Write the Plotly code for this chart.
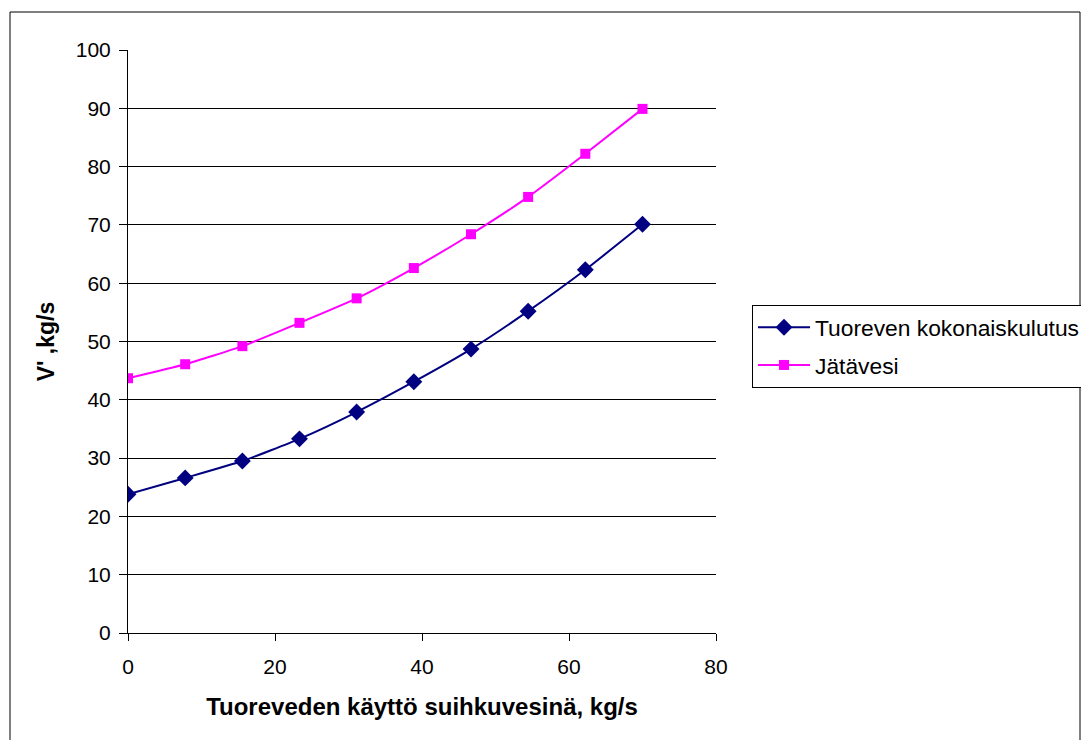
import plotly.graph_objects as go

x_vals = [0, 7.78, 15.56, 23.33, 31.11, 38.89, 46.67, 54.44, 62.22, 70.0]
kokonais = [23.8, 26.6, 29.5, 33.3, 37.9, 43.1, 48.7, 55.2, 62.3, 70.1]
jatevesi = [43.7, 46.1, 49.2, 53.2, 57.4, 62.6, 68.4, 74.8, 82.2, 89.9]
x_ticks = [0, 20, 40, 60, 80]
y_ticks = [0, 10, 20, 30, 40, 50, 60, 70, 80, 90, 100]

W, H = 1081, 740
L, R, T, B = 128, 716, 50, 633
pw, ph = R - L, B - T

def px(x):
    return (x - L) / pw

def py(y):
    return (B - y) / ph

fig = go.Figure()
fig.add_trace(go.Scatter(
    x=x_vals, y=kokonais, name="Tuoreven kokonaiskulutus", legendgroup="a",
    mode="lines+markers", line=dict(color="#000080", width=2, shape="spline", smoothing=0.5),
    marker=dict(symbol="diamond", size=13, color="#000080")))
fig.add_trace(go.Scatter(
    x=x_vals, y=jatevesi, name="Jätävesi", legendgroup="b",
    mode="lines+markers", line=dict(color="#FF00FF", width=2, shape="spline", smoothing=0.5),
    marker=dict(symbol="square", size=10, color="#FF00FF")))

font = "Liberation Sans, Arial, sans-serif"
fig.update_layout(
    width=W, height=H,
    margin=dict(l=L, r=W - R, t=T, b=H - B, autoexpand=False),
    paper_bgcolor="white", plot_bgcolor="white",
    font=dict(family=font, size=21, color="black"),
    showlegend=True,
    legend=dict(x=px(752), y=py(305), xanchor="left", yanchor="top",
                bgcolor="white", bordercolor="black", borderwidth=1,
                font=dict(size=22.8, family=font), tracegroupgap=5, itemwidth=52,
                traceorder="grouped"),
    xaxis=dict(range=[0, 80], tickvals=x_ticks, showgrid=False, zeroline=False,
               showline=True, linecolor="black", linewidth=1,
               ticks="outside", ticklen=7, tickcolor="black",
               tickfont=dict(size=21), ticklabelstandoff=8,
               title=dict(text="<b>Tuoreveden käyttö suihkuvesinä, kg/s</b>",
                          font=dict(size=24), standoff=20)),
    yaxis=dict(range=[0, 100], tickvals=y_ticks, showgrid=True, gridcolor="black", gridwidth=1,
               zeroline=False, showline=True, linecolor="black", linewidth=1,
               ticks="outside", ticklen=8, tickcolor="black",
               tickfont=dict(size=21), ticklabelstandoff=4,
               title=dict(text="<b>V' ,kg/s</b>", font=dict(size=23), standoff=14)),
)

fig.add_shape(type="rect", xref="paper", yref="paper",
              x0=px(10), x1=px(1080), y0=py(745), y1=py(12),
              line=dict(color="black", width=1), fillcolor="rgba(0,0,0,0)", layer="below")

fig.write_html("out.html")
